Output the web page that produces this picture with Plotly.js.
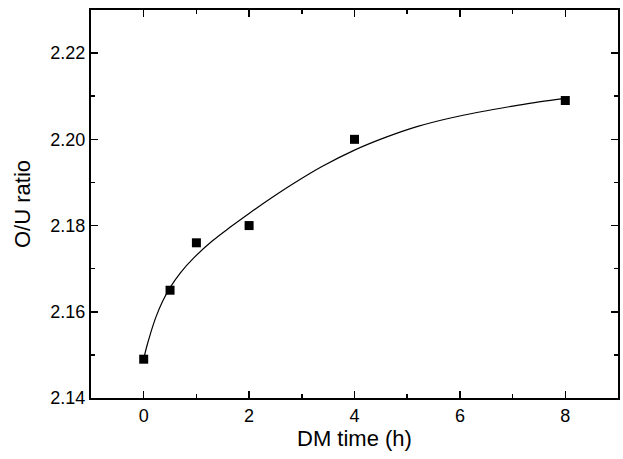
<!DOCTYPE html>
<html>
<head>
<meta charset="utf-8">
<script src="https://cdn.plot.ly/plotly-3.0.1.min.js"></script>
<style>html,body{margin:0;padding:0;background:#fff}#chart{width:623px;height:459px}</style>
</head>
<body>
<div id="chart"></div>
<script>
// Measured data (DM time in hours, O/U ratio)
const dmTime = [0, 0.5, 1, 2, 4, 8];
const ouRatio = [2.149, 2.165, 2.176, 2.180, 2.200, 2.209];

// Fitted curve
const fitTime = [0, 0.05, 0.13, 0.23, 0.35, 0.5, 0.7, 0.95, 1.3, 1.65, 2, 2.4, 2.85, 3.4, 4, 4.6, 5.2, 5.8, 6.4, 7, 7.5, 8];
const fitRatio = [2.1490, 2.1516, 2.1550, 2.1587, 2.1622, 2.1656, 2.1691, 2.1725, 2.1764, 2.1797, 2.1828, 2.1862, 2.1898, 2.1938, 2.1975, 2.2005, 2.2030, 2.2049, 2.2064, 2.2077, 2.2087, 2.2095];

const xTicks = [0, 2, 4, 6, 8];
const yTicks = [2.14, 2.16, 2.18, 2.20, 2.22];
const yTickText = ["2.14", "2.16", "2.18", "2.20", "2.22"];

const font = "Liberation Sans, Arial, sans-serif";

const traces = [
  {
    x: fitTime, y: fitRatio, type: "scatter", mode: "lines",
    line: {color: "#000", width: 1.2, shape: "spline", smoothing: 1.1},
    hoverinfo: "skip"
  },
  {
    x: dmTime, y: ouRatio, type: "scatter", mode: "markers",
    marker: {symbol: "square", size: 9, color: "#000"}
  }
];

const axisCommon = {
  showgrid: false, zeroline: false,
  showline: true, linecolor: "#000", linewidth: 2,
  mirror: "ticks", ticks: "inside", ticklen: 7, tickwidth: 1.5, tickcolor: "#000",
  tickfont: {family: font, size: 18, color: "#000"}
};

const layout = {
  width: 623, height: 459,
  margin: {l: 91, r: 5, t: 10, b: 61},
  paper_bgcolor: "#fff", plot_bgcolor: "#fff",
  showlegend: false,
  xaxis: Object.assign({}, axisCommon, {
    range: [-1, 9],
    tickmode: "array", tickvals: xTicks,
    minor: {tickvals: [1, 3, 5, 7], ticks: "inside", ticklen: 4, tickwidth: 1.5, tickcolor: "#000", showgrid: false},
    title: {text: "DM time (h)", font: {family: font, size: 22, color: "#000"}, standoff: 0}
  }),
  yaxis: Object.assign({}, axisCommon, {
    range: [2.14, 2.23],
    tickmode: "array", tickvals: yTicks, ticktext: yTickText,
    minor: {tickvals: [2.15, 2.17, 2.19, 2.21], ticks: "inside", ticklen: 4, tickwidth: 1.5, tickcolor: "#000", showgrid: false},
    title: {text: "O/U ratio", font: {family: font, size: 22, color: "#000"}, standoff: 14}
  })
};

Plotly.newPlot("chart", traces, layout, {displayModeBar: false, staticPlot: true});
</script>
</body>
</html>
